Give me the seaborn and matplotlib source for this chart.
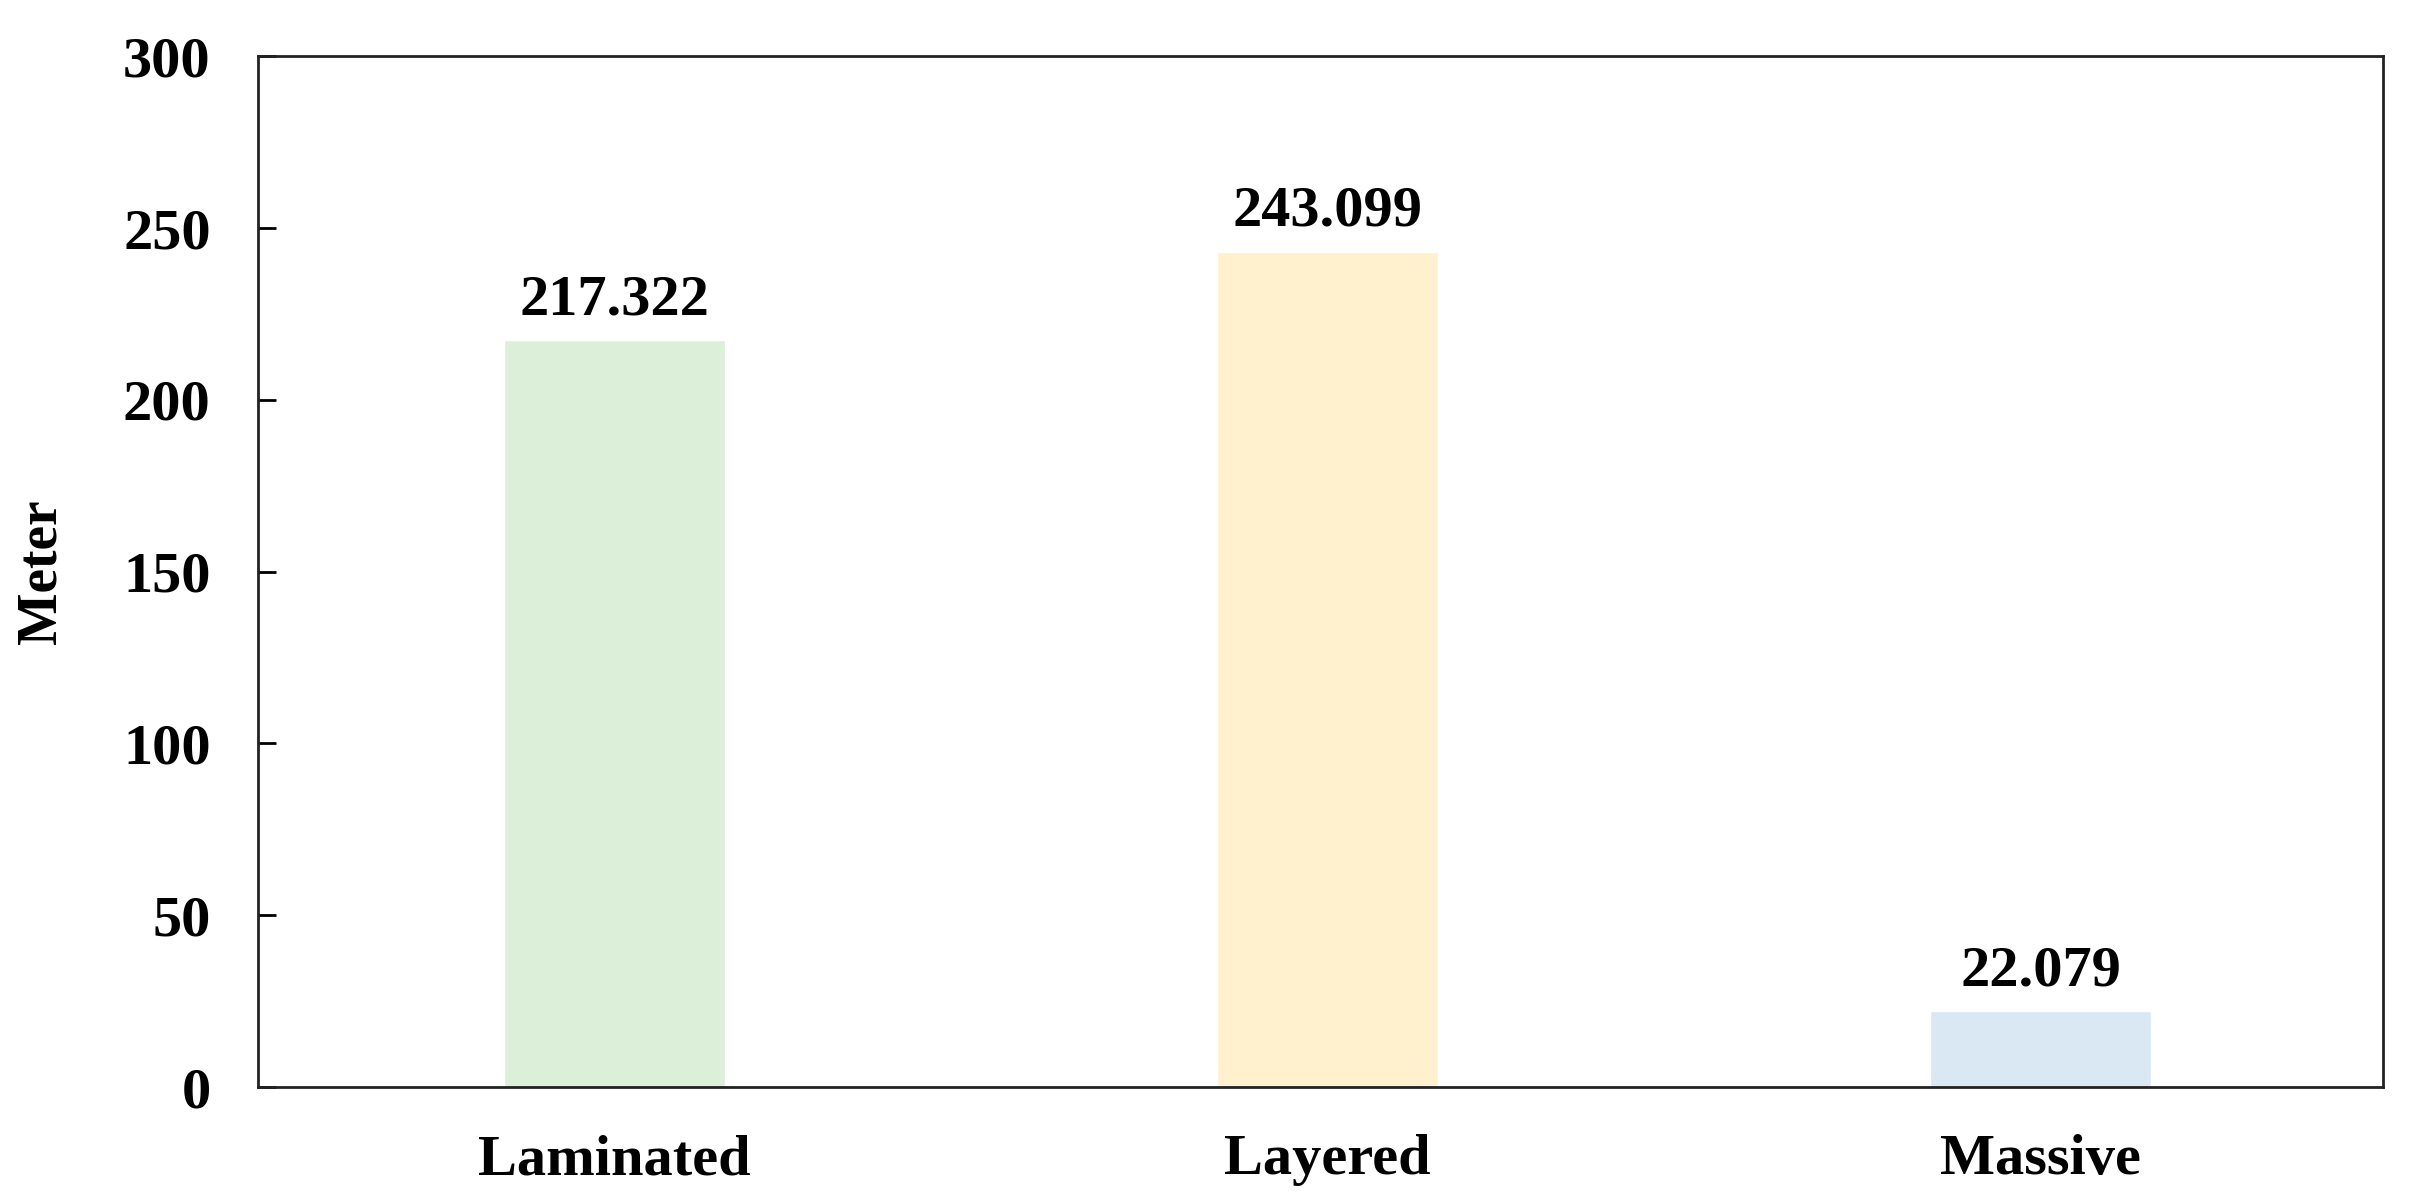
import pandas as pd
import seaborn as sns
import matplotlib.pyplot as plt

# Datos del grafico
categories = ['Laminated', 'Layered', 'Massive']
meters = [217.322, 243.099, 22.079]
bar_colors = ['#DCEFD9', '#FFF1CD', '#DAE8F4']
y_ticks = [0, 50, 100, 150, 200, 250, 300]

df = pd.DataFrame({'Type': categories, 'Meter': meters})

sns.set_style('white')
plt.rcParams['font.family'] = ['Liberation Serif', 'DejaVu Serif']
plt.rcParams['font.weight'] = 'bold'
plt.rcParams['text.color'] = 'black'
plt.rcParams['axes.labelcolor'] = 'black'
plt.rcParams['xtick.color'] = 'black'
plt.rcParams['ytick.color'] = 'black'

fig, ax = plt.subplots(figsize=(24.22, 11.99), dpi=100)
fig.subplots_adjust(left=0.1065, right=0.984, top=0.953, bottom=0.0934)

sns.barplot(data=df, x='Type', y='Meter', hue='Type', palette=bar_colors,
            width=0.31, legend=False, ax=ax, saturation=1)

# Etiquetas con los valores encima de cada barra
for container in ax.containers:
    ax.bar_label(container, fmt='%.3f', padding=10, fontsize=42,
                 fontweight='bold', color='black')

ax.set_ylim(0, 300)
ax.set_xlim(-0.5, 2.48)
ax.set_yticks(y_ticks)
ax.set_xlabel('')
ax.set_ylabel('Meter', fontsize=40, fontweight='bold', labelpad=40, color='black')

ax.tick_params(axis='y', direction='in', length=13, width=2, pad=34,
               labelsize=42, left=True, colors='black')
ax.tick_params(axis='x', length=0, pad=34, labelsize=42, colors='black')
for lbl in ax.get_xticklabels() + ax.get_yticklabels():
    lbl.set_fontweight('bold')

for spine in ax.spines.values():
    spine.set_linewidth(2)
    spine.set_color('#222222')

plt.savefig('out.png', dpi=100)
